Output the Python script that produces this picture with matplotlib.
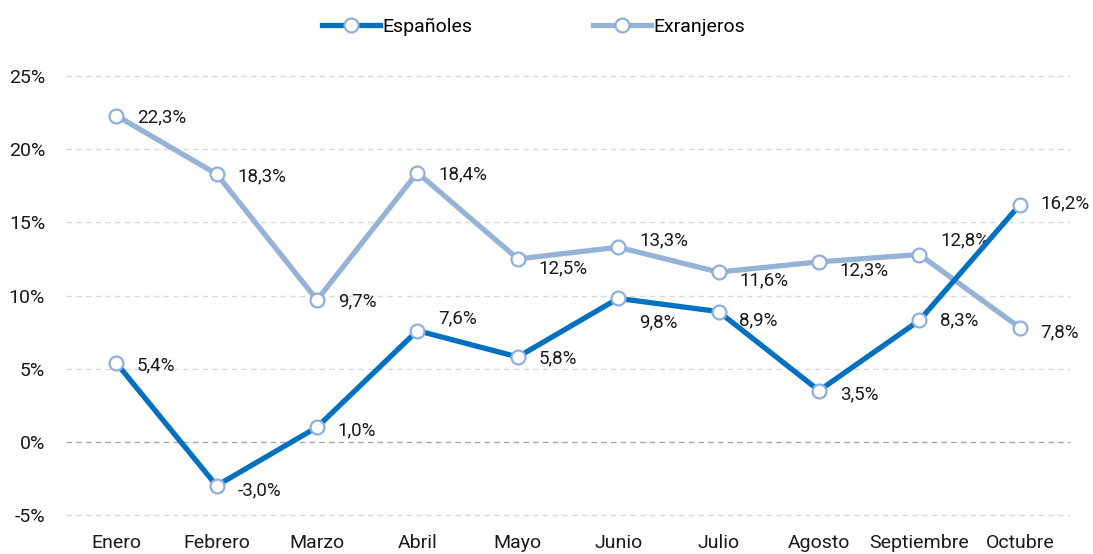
import matplotlib.pyplot as plt
import numpy as np

meses = ["Enero", "Febrero", "Marzo", "Abril", "Mayo", "Junio", "Julio",
         "Agosto", "Septiembre", "Octubre"]
espanoles = [5.4, -3.0, 1.0, 7.6, 5.8, 9.8, 8.9, 3.5, 8.3, 16.2]
extranjeros = [22.3, 18.3, 9.7, 18.4, 12.5, 13.3, 11.6, 12.3, 12.8, 7.8]

# label offsets in points (dx, dy) for each point
off_esp = [(15, -2), (15, -3), (15, -2), (15, 9), (15, -1), (15, -17), (15, -6), (15, -3), (15, 0), (15, 1)]
off_ext = [(15, -1), (15, -2), (15, -1), (15, -1), (15, -7), (15, 5), (15, -6), (15, -6), (15, 10), (15, -3)]

plt.rcParams['font.family'] = ['Roboto', 'DejaVu Sans']

fig = plt.figure(figsize=(10.93, 5.54), dpi=100)
ax = fig.add_axes([0.0604, 0.0704, 0.9186, 0.7924])

x = np.arange(len(meses)) + 0.5
c_esp = "#0070C0"
c_ext = "#95B3D7"
mk = dict(marker='o', markersize=10, markerfacecolor='white',
          markeredgecolor='#8FAEDA', markeredgewidth=1.6)

ax.plot(x, extranjeros, color=c_ext, lw=3.8, label="Exranjeros", zorder=3, **mk)
ax.plot(x, espanoles, color=c_esp, lw=3.8, label="Españoles", zorder=4, **mk)

for xi, v, (dx, dy) in zip(x, espanoles, off_esp):
    ax.annotate(f"{v:.1f}%".replace(".", ","), (xi, v), xytext=(dx, dy),
                textcoords='offset points', ha='left', va='center', fontsize=13.5, color='#1a1a1a')
for xi, v, (dx, dy) in zip(x, extranjeros, off_ext):
    ax.annotate(f"{v:.1f}%".replace(".", ","), (xi, v), xytext=(dx, dy),
                textcoords='offset points', ha='left', va='center', fontsize=13.5, color='#1a1a1a')

ax.set_xlim(0, len(meses))
ax.set_ylim(-5, 25)
ax.set_yticks(np.arange(-5, 26, 5))
ax.set_yticklabels([f"{t}%" for t in range(-5, 26, 5)])
ax.set_xticks(x)
ax.set_xticklabels(meses)
ax.tick_params(length=0, labelsize=14, colors='#1a1a1a')
ax.tick_params(axis='y', pad=15)
ax.tick_params(axis='x', pad=14)
for t in range(-5, 26, 5):
    ax.axhline(t, color='#A6A6A6' if t == 0 else '#D9D9D9', lw=1, ls=(0, (4, 3)),
               zorder=1, clip_on=False)
for s in ax.spines.values():
    s.set_visible(False)

h, l = ax.get_legend_handles_labels()
fig.legend(h[::-1], l[::-1], loc='upper center', bbox_to_anchor=(0.488, 1.0), ncol=2,
           frameon=False, fontsize=14, columnspacing=6.2, handlelength=3, handletextpad=0.1)

fig.savefig("out.png", dpi=100)
